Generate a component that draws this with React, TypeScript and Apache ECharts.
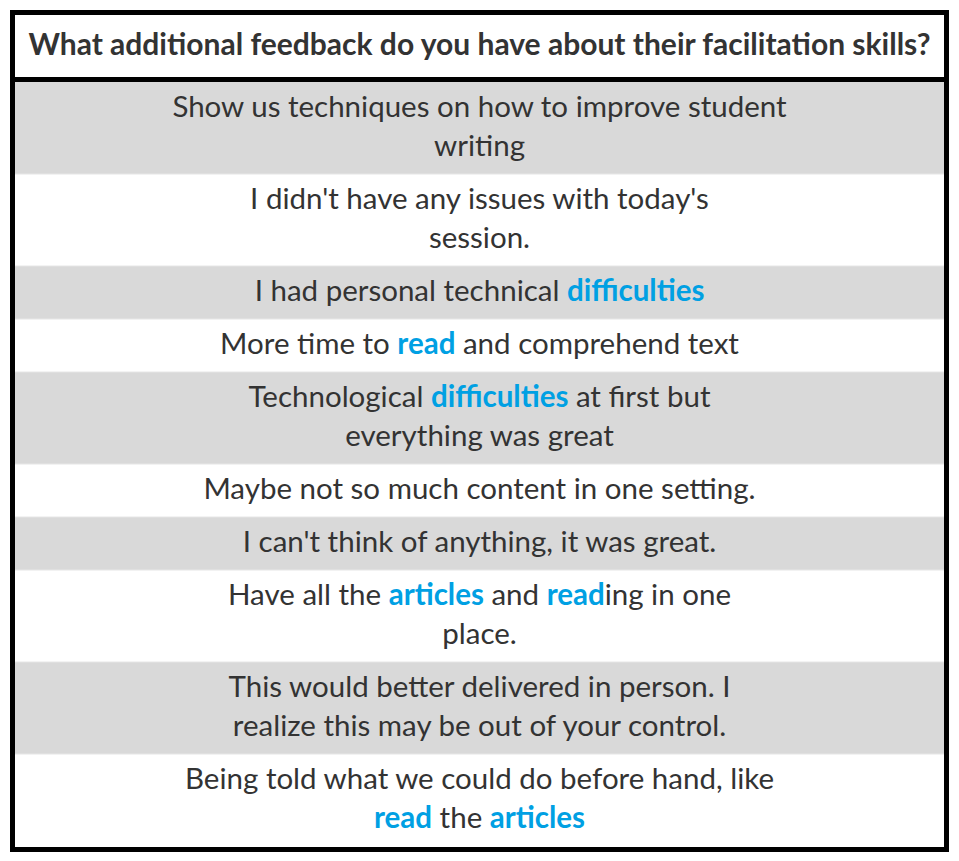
import * as echarts from 'echarts';
import { useEffect, useRef } from 'react';

const TITLE = 'What additional feedback do you have about their facilitation skills?';

// each response: lines of rich text, {h|word} marks the highlighted words
const RESPONSES: string[][] = [
  ['Show us techniques on how to improve student', 'writing'],
  ["I didn't have any issues with today's", 'session.'],
  ['I had personal technical {h|difficulties}'],
  ['More time to {h|read} and comprehend text'],
  ['Technological {h|difficulties} at first but', 'everything was great'],
  ['Maybe not so much content in one setting.'],
  ["I can't think of anything, it was great."],
  ['Have all the {h|articles} and {h|read}ing in one', 'place.'],
  ['This would better delivered in person. I', 'realize this may be out of your control.'],
  ['Being told what we could do before hand, like', '{h|read} the {h|articles}'],
];

const FONT = 'Lato, "Open Sans", sans-serif';
const BODY_SIZE = 29.5;

export default function App() {
  const ref = useRef<HTMLDivElement | null>(null);

  useEffect(() => {
    if (!ref.current) return undefined;
    const chart = echarts.init(ref.current, undefined, { renderer: 'svg' });

    const left = 15;
    const right = 944;
    const width = right - left;
    const cx = (left + right) / 2;
    const lineH = 39;
    const elements: any[] = [];

    let y = 82;
    RESPONSES.forEach((lines, i) => {
      const h = 14 + lineH * lines.length;
      elements.push({
        type: 'rect',
        shape: { x: left, y, width, height: h },
        style: { fill: i % 2 === 0 ? '#d9d9d9' : '#ffffff' },
      });
      if (i > 0) {
        elements.push({
          type: 'line',
          shape: { x1: left, y1: y, x2: right, y2: y },
          style: { stroke: '#e6e6e6', lineWidth: 1 },
        });
      }
      lines.forEach((ln, j) => {
        elements.push({
          type: 'text',
          x: cx,
          y: y + 4 + lineH * j + lineH / 2,
          style: {
            text: ln,
            fontFamily: FONT,
            fontSize: BODY_SIZE,
            fill: '#333333',
            align: 'center',
            verticalAlign: 'middle',
            rich: {
              h: { fontFamily: FONT, fontSize: BODY_SIZE, fontWeight: 'bold', fill: '#00a0e3' },
            },
          },
        });
      });
      y += h;
    });

    // header
    elements.push({
      type: 'rect',
      shape: { x: left, y: 14, width, height: 64 },
      style: { fill: '#ffffff' },
    });
    elements.push({
      type: 'text',
      x: cx,
      y: 43,
      style: {
        text: TITLE,
        fontFamily: FONT,
        fontSize: 30,
        fontWeight: 'bold',
        fill: '#333333',
        align: 'center',
        verticalAlign: 'middle',
      },
    });
    elements.push({
      type: 'line',
      shape: { x1: left, y1: 79.5, x2: right, y2: 79.5 },
      style: { stroke: '#000000', lineWidth: 5 },
    });
    elements.push({
      type: 'rect',
      shape: { x: 12.5, y: 12.5, width: 934, height: 837 },
      style: { fill: 'none', stroke: '#000000', lineWidth: 5 },
    });

    chart.setOption({ animation: false, graphic: { elements } });
    return () => chart.dispose();
  }, []);

  return (
    <div
      ref={ref}
      style={{ position: 'fixed', left: 0, top: 0, width: 959, height: 861, background: '#ffffff' }}
    />
  );
}
